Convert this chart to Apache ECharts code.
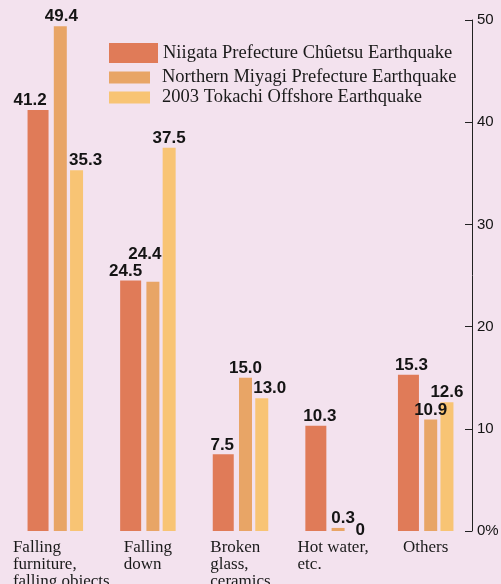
<!DOCTYPE html>
<html>
<head>
<meta charset="utf-8">
<script src="https://cdn.jsdelivr.net/npm/echarts@6/dist/echarts.min.js"></script>
<style>
html,body{margin:0;padding:0;background:#f3e2ee;}
#c{width:501px;height:584px;}
</style>
</head>
<body>
<div id="c"></div>
<script>
const categories = ['Falling\nfurniture,\nfalling objects', 'Falling\ndown', 'Broken\nglass,\nceramics', 'Hot water,\netc.', 'Others'];
const seriesNames = ['Niigata Prefecture Chûetsu Earthquake', 'Northern Miyagi Prefecture Earthquake', '2003 Tokachi Offshore Earthquake'];
const niigata = [41.2, 24.5, 7.5, 10.3, 15.3];
const miyagi = [49.4, 24.4, 15.0, 0.3, 10.9];
const tokachi = [35.3, 37.5, 13.0, 0, 12.6];
const valueLabels = [
  ['41.2', '24.5', '7.5', '10.3', '15.3'],
  ['49.4', '24.4', '15.0', '0.3', '10.9'],
  ['35.3', '37.5', '13.0', '0', '12.6']
];
const yTicks = [0, 10, 20, 30, 40, 50];

// styling: label nudges (pixels) to mimic the reference's hand placement
const labelNudge = [
  [[-8, 0], [-5, 0], [-1, 0], [4, 0], [3, 0]],
  [[1, 0], [-8, -18], [0, 0], [5, 0], [0, 0]],
  [[9, 0], [0, 0], [8, 0], [6, 9], [0, 0]]
];
const colors = ['#e07b58', '#e8a566', '#f8c474'];
const barWidths = [21, 13, 13];
const allValues = [niigata, miyagi, tokachi];

const chart = echarts.init(document.getElementById('c'), null, {renderer: 'canvas'});

const series = allValues.map((vals, s) => ({
  name: seriesNames[s],
  type: 'bar',
  barWidth: barWidths[s],
  barGap: '25%',
  itemStyle: {color: colors[s]},
  label: {
    show: true,
    position: 'top',
    distance: 1,
    fontFamily: 'Liberation Sans',
    fontWeight: 'bold',
    fontSize: 17,
    color: '#141414',
    formatter: p => valueLabels[s][p.dataIndex]
  },
  data: vals.map((v, i) => ({value: v, label: {offset: labelNudge[s][i]}}))
}));

const legendText = {fontFamily: 'Liberation Serif', fontSize: 18.5, color: '#1a1a1a'};
const legendBase = {
  orient: 'vertical',
  left: 109,
  padding: 0,
  icon: 'rect',
  selectedMode: false,
  textStyle: legendText
};

const catText = {fontFamily: 'Liberation Serif', fontSize: 17, lineHeight: 17, color: '#1a1a1a', align: 'left'};

chart.setOption({
  backgroundColor: '#f3e2ee',
  animation: false,
  grid: {left: 9, right: 29, top: 20, bottom: 53, outerBoundsMode: 'none', containLabel: false},
  legend: [
    Object.assign({}, legendBase, {top: 43, itemWidth: 49, itemHeight: 20, data: [seriesNames[0]]}),
    Object.assign({}, legendBase, {top: 68, itemWidth: 41, itemHeight: 12, data: [seriesNames[1]],
      textStyle: Object.assign({}, legendText, {padding: [0, 0, 0, 7]})}),
    Object.assign({}, legendBase, {top: 88, itemWidth: 41, itemHeight: 12, data: [seriesNames[2]],
      textStyle: Object.assign({}, legendText, {padding: [0, 0, 0, 7]})})
  ],
  xAxis: {
    type: 'category',
    data: categories,
    axisLine: {show: false},
    axisTick: {show: false},
    axisLabel: {
      margin: 8,
      interval: 0,
      align: 'center',
      formatter: (v, idx) => {
        const tag = idx === 0 ? 'b' : 'a';
        return v.split('\n').map(l => '{' + tag + '|' + l + '}').join('\n');
      },
      rich: {
        a: catText,
        b: Object.assign({}, catText, {padding: [0, 0, 0, 12]})
      }
    }
  },
  yAxis: {
    type: 'value',
    position: 'right',
    min: yTicks[0],
    max: yTicks[yTicks.length - 1],
    interval: 10,
    splitLine: {show: false},
    axisLine: {show: true, lineStyle: {color: '#222', width: 1}},
    axisTick: {show: true, inside: true, length: 7, lineStyle: {color: '#222', width: 1}},
    axisLabel: {
      margin: 5,
      fontFamily: 'Liberation Sans',
      fontSize: 15,
      color: '#141414',
      formatter: v => v === 0 ? '0%' : String(v)
    }
  },
  series: series
});
</script>
</body>
</html>
